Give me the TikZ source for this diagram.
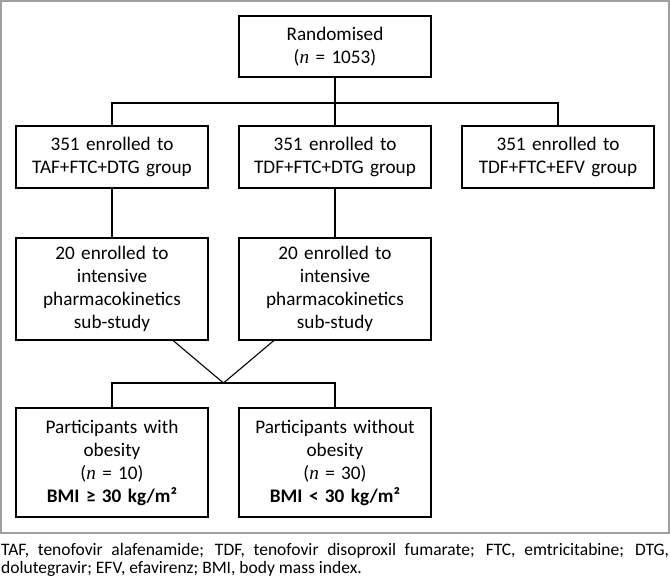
\documentclass[tikz,border=0pt]{standalone}
\usepackage{fontspec}
\setmainfont{Carlito}
\newfontfamily\serifit{Liberation Serif}
\newcommand{\nval}{{\serifit\itshape n}}

\begin{document}
\begin{tikzpicture}[x=1pt,y=-1pt,
    stage/.style ={draw, line width=1.2pt, text width=188pt, align=center,
      minimum width=192pt, inner sep=0pt, font=\fontsize{19.2}{23}\selectfont},
    link/.style ={line width=1.1pt}]
   \useasboundingbox (0,0) rectangle (670,581);
   \draw[gray!75, line width=1.5pt] (0.8,0.8) rectangle (669.2,533);
   % boxes
   \node[stage, minimum height=61pt] (rand) at (335,46.5) {Randomised\\(\nval{} = 1053)};
   \node[stage, minimum height=62pt] (taf) at (112,157) {351 enrolled to\\TAF+FTC+DTG group};
   \node[stage, minimum height=62pt] (tdf) at (335,157) {351 enrolled to\\TDF+FTC+DTG group};
   \node[stage, minimum height=62pt] (efv) at (558,157) {351 enrolled to\\TDF+FTC+EFV group};
   \node[stage, minimum height=102pt] (pkA) at (112,289) {20 enrolled to\\intensive\\pharmacokinetics\\sub-study};
   \node[stage, minimum height=102pt] (pkB) at (335,289) {20 enrolled to\\intensive\\pharmacokinetics\\sub-study};
   \node[stage, minimum height=109pt] (obese) at (112,462.5) {Participants with\\obesity\\(\nval{} = 10)\\\textbf{BMI ≥ 30 kg/m²}};
   \node[stage, minimum height=109pt] (lean) at (335,462.5) {Participants without\\obesity\\(\nval{} = 30)\\\textbf{BMI < 30 kg/m²}};
   \coordinate (split) at (335,103);
   \coordinate (merge) at (223.5,383);
   % connectors
   \draw[link] (rand) -- (split);
   \draw[link] (split) -- (tdf);
   \draw[link] (split) -| (taf.north);
   \draw[link] (split) -| (efv.north);
   \draw[link] (taf) -- (pkA);
   \draw[link] (tdf) -- (pkB);
   \draw[link] (pkA) -- (merge);
   \draw[link] (pkB) -- (merge);
   \draw[link] (obese.north) |- (merge) -| (lean.north);
   % footnote
   \node[anchor=north west, text width=668pt, align=justify, inner sep=0pt,
     font=\fontsize{17.5}{18.5}\selectfont] (note) at (1,543)
     {TAF, tenofovir alafenamide; TDF, tenofovir disoproxil fumarate; FTC, emtricitabine; DTG,\linebreak dolutegravir; EFV, efavirenz; BMI, body mass index.};
 \end{tikzpicture}
\end{document}
